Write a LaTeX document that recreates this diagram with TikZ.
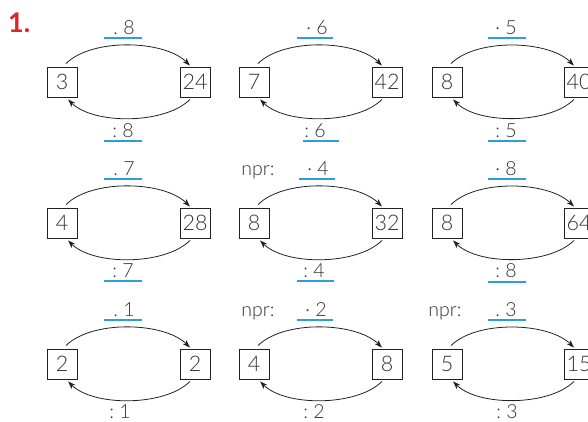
\documentclass[tikz,border=0pt]{standalone}
\usepackage{fontspec}
\setmainfont{Lato Light}
\newfontfamily\numfont{Lato}
\usetikzlibrary{arrows.meta}
\definecolor{txt}{HTML}{333333}
\definecolor{ln}{HTML}{222222}
\definecolor{ublue}{HTML}{2A9FD8}
\definecolor{numred}{HTML}{D7262E}
\tikzset{
  numbox/.style={draw=ln,line width=0.8pt,minimum width=30pt,minimum height=30pt,inner sep=0pt,text=txt,font=\fontsize{21.5}{21.5}\selectfont},
  arcline/.style={draw=ln,line width=0.8pt,-{Stealth[length=8pt,width=5.5pt]}},
  lbl/.style={anchor=base,inner sep=0pt,text=txt,font=\fontsize{19.5}{19.5}\selectfont},
  uline/.style={draw=ublue,line width=1.3pt},
}
\newcommand{\mypanel}[6]{%
  % #1 id, #2 left x, #3 right x, #4 y, #5 left text, #6 right text
  \node[numbox] (#1L) at (#2,#4) {#5};
  \node[numbox] (#1R) at (#3,#4) {#6};
  \draw[arcline] ([xshift=4pt,yshift=3pt]#1L.north) to[out=45,in=135,looseness=0.75] ([xshift=-5pt,yshift=1pt]#1R.north);
  \draw[arcline] ([xshift=-5pt,yshift=-2pt]#1R.south) to[out=-135,in=-45,looseness=0.75] ([xshift=6pt,yshift=-2pt]#1L.south);
}
\begin{document}
\begin{tikzpicture}[x=1pt,y=-1pt]
\useasboundingbox (0,0) rectangle (588,421);
\node[anchor=base west,inner sep=0pt,text=numred,font=\numfont\fontsize{27}{27}\selectfont\bfseries] (num) at (8,32) {1.};

% row 1
\mypanel{a}{62}{195}{82}{3}{24}
\mypanel{b}{254}{387}{82}{7}{42}
\mypanel{c}{447}{579}{82}{8}{40}
% row 2
\mypanel{d}{62}{195}{223}{4}{28}
\mypanel{e}{254}{387}{223}{8}{32}
\mypanel{f}{447}{579}{223}{8}{64}
% row 3
\mypanel{g}{62}{195}{364}{2}{2}
\mypanel{h}{254}{387}{364}{4}{8}
\mypanel{i}{447}{579}{364}{5}{15}

% labels row 1
\node[lbl] (at) at (124,34) {.\ 8};
\draw[uline] (104,38) coordinate (au1) -- (142,38) coordinate (au2);
\node[lbl] (ab) at (123,137) {:\ 8};
\draw[uline] (104,141) coordinate (ab1) -- (142,141) coordinate (ab2);
\node[lbl] (bt) at (317,34) {·\ 6};
\draw[uline] (297,38) coordinate (bu1) -- (333,38) coordinate (bu2);
\node[lbl] (bb) at (315,137) {:\ 6};
\draw[uline] (303,141) coordinate (bb1) -- (339,141) coordinate (bb2);
\node[lbl] (ct) at (506,34) {·\ 5};
\draw[uline] (488,38) coordinate (cu1) -- (526,38) coordinate (cu2);
\node[lbl] (cb) at (506,137) {:\ 5};
\draw[uline] (488,141) coordinate (cb1) -- (526,141) coordinate (cb2);

% labels row 2
\node[lbl] (dt) at (124,175) {.\ 7};
\draw[uline] (104,179) coordinate (du1) -- (142,179) coordinate (du2);
\node[lbl] (db) at (123,277) {:\ 7};
\draw[uline] (104,281) coordinate (db1) -- (142,281) coordinate (db2);
\node[lbl] (enpr) at (258,175) {npr:};
\node[lbl] (et) at (318,175) {·\ 4};
\draw[uline] (299,179) coordinate (eu1) -- (335,179) coordinate (eu2);
\node[lbl] (eb) at (314,277) {:\ 4};
\draw[uline] (297,281) coordinate (eb1) -- (334,281) coordinate (eb2);
\node[lbl] (ft) at (506,175) {·\ 8};
\draw[uline] (488,179) coordinate (fu1) -- (526,179) coordinate (fu2);
\node[lbl] (fb) at (506,277) {:\ 8};
\draw[uline] (488,282) coordinate (fb1) -- (526,282) coordinate (fb2);

% labels row 3
\node[lbl] (gt) at (124,316) {.\ 1};
\draw[uline] (104,320) coordinate (gu1) -- (142,320) coordinate (gu2);
\node[lbl] (gb) at (120,418) {:\ 1};
\node[lbl] (hnpr) at (258,316) {npr:};
\node[lbl] (ht) at (316,316) {·\ 2};
\draw[uline] (297,320) coordinate (hu1) -- (333,320) coordinate (hu2);
\node[lbl] (hb) at (314,418) {:\ 2};
\node[lbl] (inpr) at (445,316) {npr:};
\node[lbl] (it) at (506,316) {.\ 3};
\draw[uline] (488,320) coordinate (iu1) -- (526,320) coordinate (iu2);
\node[lbl] (ib) at (507,418) {:\ 3};
\end{tikzpicture}
\end{document}
